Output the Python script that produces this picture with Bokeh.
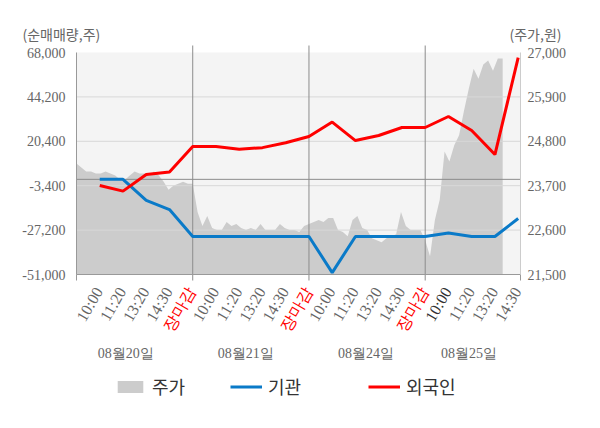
import math
from bokeh.plotting import figure
from bokeh.models import (Range1d, LinearAxis, FixedTicker, BoxAnnotation, Label,
                          LabelSet, ColumnDataSource, Legend, LegendItem)
from bokeh.embed import file_html
from bokeh.resources import INLINE

# ---------------- data ----------------
day_names = ["08월20일", "08월21일", "08월24일", "08월25일"]
slot_labels = ["10:00", "11:20", "13:20", "14:30", "장마감",
               "10:00", "11:20", "13:20", "14:30", "장마감",
               "10:00", "11:20", "13:20", "14:30", "장마감",
               "10:00", "11:20", "13:20", "14:30"]
foreign = [-3300, -6300, 2600, 3900, 17600,
           17600, 16200, 17000, 19600, 23000,
           30700, 20800, 23500, 27800, 27800,
           33700, 26200, 13300, 65200]
institution = [0, 0, -11300, -16200, -30600,
               -30600, -30600, -30600, -30600, -30600,
               -50000, -30600, -30600, -30600, -30600,
               -28800, -30600, -30600, -21000]
price_day1 = [24250, 24150, 24050, 24050, 24000, 24000, 24050, 24000, 23950, 23850, 23850, 23950,
              24050, 24000, 24000, 23950, 24050, 23950, 23800, 23600, 23700, 23750, 23800, 23750]
price_day2 = [23750, 23050, 22700, 22950, 22650, 22600, 22600, 22800, 22700, 22750, 22650, 22600,
              22650, 22600, 22750, 22600, 22600, 22600, 22750, 22650, 22600, 22600, 22550, 22700]
price_day3 = [22750, 22800, 22850, 22800, 22900, 22900, 22600, 22550, 22450, 22850, 22950, 22650,
              22600, 22400, 22350, 22300, 22400, 22450, 22500, 23050, 22700, 22600, 22600, 22600]
price_day4 = [22350, 21950, 22850, 23350, 24550, 24300, 24700, 24950, 25550, 26100, 26600, 26350,
              26700, 26800, 26550, 26850, 26850]
price_days = [price_day1, price_day2, price_day3, price_day4]
left_ticks = [-51000, -27200, -3400, 20400, 44200, 68000]
right_ticks = [21500, 22600, 23700, 24800, 25900, 27000]
left_title = "(순매매량,주)"
right_title = "(주가,원)"

# ---------------- style / layout ----------------
FONT = "Noto Sans CJK KR"
GREY = "#666666"
DARK = "#333333"
BLUE = "#0a7ac8"
RED = "#ff0000"
AXIS = "#999999"
SEP = "#8c8c8c"
GRID = "#d8d8d8"
SLOTS_PER_DAY = 5
SAMPLES_PER_DAY = 24
W, H = 600, 428
PL, PR, PT, PB = 76, 520, 52, 274          # plot region (px)
X0, X1 = -1, 18.1                          # x extent of plot region
DAY_LABEL_X = [1.12, 6.28, 11.45, 15.88]
SLOT_ANGLE = math.pi / 3
TICK_DOWN, SEP_UP = 6, 7                   # px

kx = (X1 - X0) / (PR - PL)
ky = (left_ticks[-1] - left_ticks[0]) / (PB - PT)
ky2 = (right_ticks[-1] - right_ticks[0]) / (PB - PT)

# ---------------- derived ----------------
slot_x = list(range(len(slot_labels)))
price_x, price_y = [], []
for d, vals in enumerate(price_days):
    for i, v in enumerate(vals):
        price_x.append(d * SLOTS_PER_DAY - 1 + i * SLOTS_PER_DAY / SAMPLES_PER_DAY)
        price_y.append(v)
day_bounds = [d * SLOTS_PER_DAY - 1 for d in range(1, len(day_names))]
dark_idx = len(slot_labels) - 4
slot_colors = [RED if s == "장마감" else (DARK if i == dark_idx else GREY)
               for i, s in enumerate(slot_labels)]
y_bot, y_top = left_ticks[0], left_ticks[-1]

# frame covers the whole canvas; the plot region is mapped through the ranges
p = figure(width=W, height=H, output_backend="svg", toolbar_location=None,
           x_range=Range1d(X0 - PL * kx, X1 + (W - PR) * kx),
           y_range=Range1d(y_bot - (H - PB) * ky, y_top + PT * ky),
           min_border_left=0, min_border_right=0, min_border_top=0, min_border_bottom=0)
p.extra_y_ranges = {"price": Range1d(right_ticks[0] - (H - PB) * ky2, right_ticks[-1] + PT * ky2)}
p.background_fill_color = "white"
p.border_fill_color = "white"
p.outline_line_color = None
p.xgrid.visible = False
p.ygrid.visible = False
p.xaxis.visible = False
p.yaxis.visible = False

# plot-region background
p.add_layout(BoxAnnotation(left=X0, right=X1, bottom=y_bot, top=y_top,
                           fill_color="#f4f4f4", fill_alpha=1, line_color=None, level="image"))

# price area
area = p.varea(x=price_x, y1=right_ticks[0], y2=price_y, y_range_name="price",
               fill_color="#cccccc", level="underlay")

# grid lines, zero line, day separators, end ticks
hg = left_ticks[1:-1]
p.segment(x0=[X0] * len(hg), y0=hg, x1=[X1] * len(hg), y1=hg,
          line_color=GRID, line_width=1, level="glyph")
p.segment(x0=[X0], y0=[0], x1=[X1], y1=[0], line_color=SEP, line_width=1, level="glyph")
p.segment(x0=day_bounds, y0=[y_bot - TICK_DOWN * ky] * len(day_bounds),
          x1=day_bounds, y1=[y_top + SEP_UP * ky] * len(day_bounds),
          line_color=SEP, line_width=1, level="glyph")
p.segment(x0=[X0, X1], y0=[y_bot - TICK_DOWN * ky] * 2, x1=[X0, X1], y1=[y_bot] * 2,
          line_color=AXIS, line_width=1, level="glyph")

inst_r = p.line(slot_x, institution, line_color=BLUE, line_width=3, level="guide")
for_r = p.line(slot_x, foreign, line_color=RED, line_width=3, level="guide")

# axis rules (tick labels are drawn as label sets below)
def rule_axis(**kw):
    ax = LinearAxis(ticker=FixedTicker(ticks=[]), **kw)
    ax.major_tick_in = 0
    ax.major_tick_out = 0
    ax.minor_tick_in = 0
    ax.minor_tick_out = 0
    ax.major_label_standoff = 0
    return ax

la = rule_axis(fixed_location=X0, bounds=(y_bot, y_top))
la.axis_line_color = AXIS
p.add_layout(la, "left")
ra = rule_axis(fixed_location=X1, bounds=(right_ticks[0], right_ticks[-1]), y_range_name="price")
ra.axis_line_color = "#cccccc"
p.add_layout(ra, "right")
ba = rule_axis(fixed_location=y_bot, bounds=(X0, X1))
ba.axis_line_color = AXIS
p.add_layout(ba, "below")

# y tick labels
lsrc = ColumnDataSource(dict(y=left_ticks, text=[f"{v:,}" for v in left_ticks]))
p.add_layout(LabelSet(x=X0, y="y", text="text", source=lsrc, x_offset=-11,
                      text_font=FONT, text_font_size="14px", text_color=GREY,
                      text_align="right", text_baseline="middle"))
rsrc = ColumnDataSource(dict(y=right_ticks, text=[f"{v:,}" for v in right_ticks]))
p.add_layout(LabelSet(x=X1, y="y", text="text", source=rsrc, x_offset=7, y_range_name="price",
                      text_font=FONT, text_font_size="14px", text_color=GREY,
                      text_align="left", text_baseline="middle"))

# unit titles
for txt, px in ((left_title, 22), (right_title, 509)):
    p.add_layout(Label(x=px, y=H - 33, x_units="screen", y_units="screen", text=txt,
                       text_font=FONT, text_font_size="14px", text_color=GREY,
                       text_align="left", text_baseline="middle"))

# slot labels (rotated, coloured)
src = ColumnDataSource(dict(x=slot_x, text=slot_labels, color=slot_colors))
p.add_layout(LabelSet(x="x", y=H - 288, y_units="screen", text="text", source=src,
                      text_color="color", text_font=FONT, text_font_size="16px",
                      angle=SLOT_ANGLE, text_align="right", text_baseline="middle", x_offset=-1))

# day labels
dsrc = ColumnDataSource(dict(x=DAY_LABEL_X, text=day_names))
p.add_layout(LabelSet(x="x", y=H - 353, y_units="screen", text="text", source=dsrc,
                      text_color=GREY, text_font=FONT, text_font_size="14px",
                      text_align="center", text_baseline="middle"))

# legends
def make_legend(label, rend, px):
    lg = Legend(items=[LegendItem(label=label, renderers=[rend])], location=(px, H - 399))
    lg.orientation = "horizontal"
    lg.padding = 0
    lg.margin = 0
    lg.border_line_color = None
    lg.background_fill_alpha = 0
    lg.glyph_width = 32
    lg.glyph_height = 15
    lg.label_standoff = 6
    lg.label_text_font = FONT
    lg.label_text_font_size = "18px"
    lg.label_text_color = DARK
    return lg

p.add_layout(make_legend("주가", area, 114))
p.add_layout(make_legend("기관", inst_r, 230))
p.add_layout(make_legend("외국인", for_r, 368))

open("out.html", "w").write(file_html(p, INLINE))
